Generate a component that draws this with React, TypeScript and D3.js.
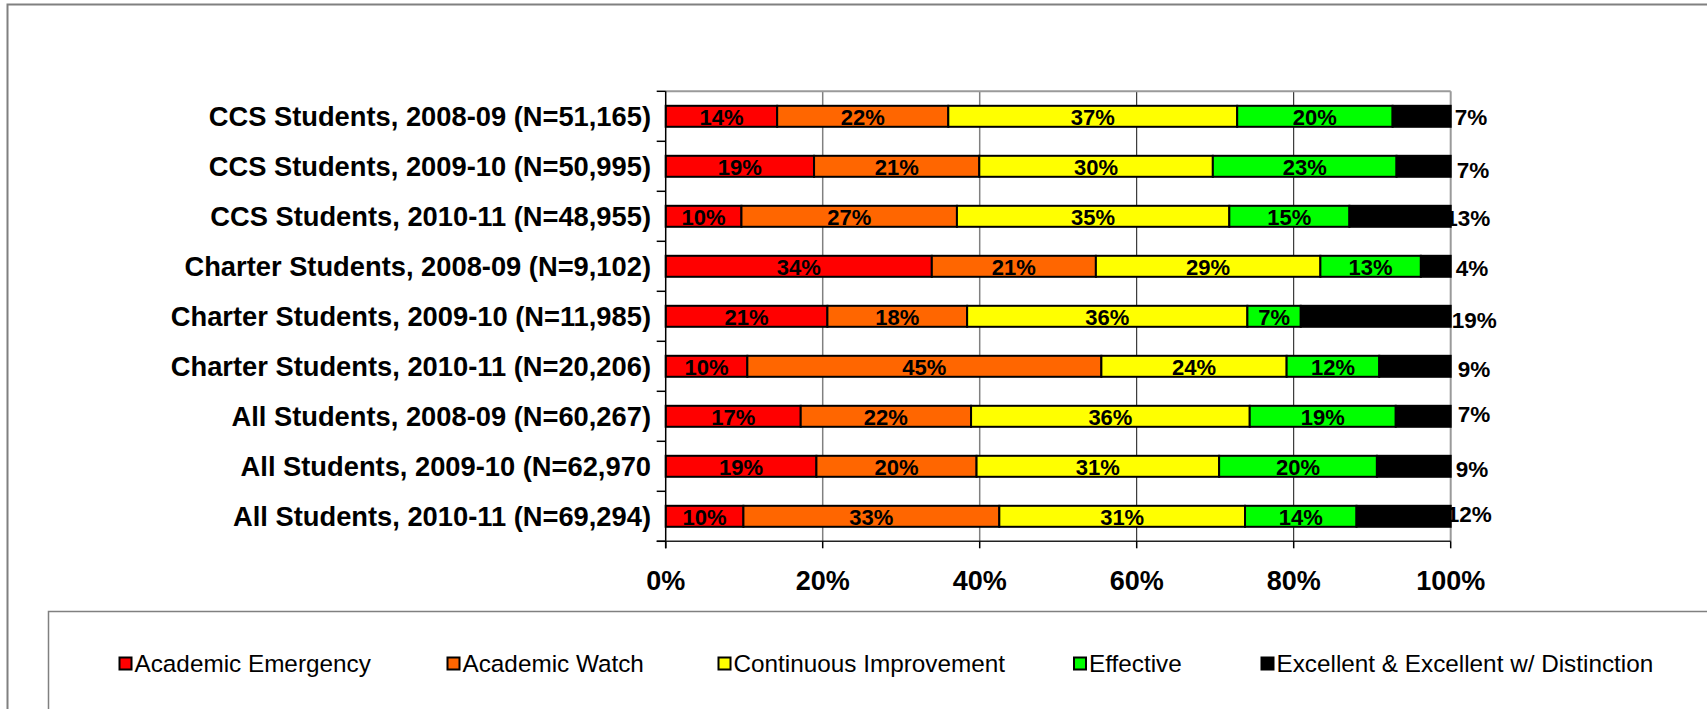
import React from "react";
import * as d3 from "d3";

const categories = [
  "CCS Students, 2008-09 (N=51,165)",
  "CCS Students, 2009-10 (N=50,995)",
  "CCS Students, 2010-11 (N=48,955)",
  "Charter Students, 2008-09 (N=9,102)",
  "Charter Students, 2009-10 (N=11,985)",
  "Charter Students, 2010-11 (N=20,206)",
  "All Students, 2008-09 (N=60,267)",
  "All Students, 2009-10 (N=62,970",
  "All Students, 2010-11 (N=69,294)",
];
const seriesNames = [
  "Academic Emergency",
  "Academic Watch",
  "Continuous Improvement",
  "Effective",
  "Excellent & Excellent w/ Distinction",
];
const seriesColors = ["#FF0000", "#FF6600", "#FFFF00", "#00FF00", "#000000"];

const emergency = [14.2, 18.9, 9.65, 33.9, 20.6, 10.4, 17.2, 19.2, 9.9];
const watch = [21.8, 21.05, 27.45, 20.9, 17.8, 45.1, 21.7, 20.4, 32.6];
const continuous = [36.8, 29.75, 34.7, 28.6, 35.7, 23.6, 35.5, 30.9, 31.3];
const effective = [19.8, 23.4, 15.3, 12.8, 6.8, 11.8, 18.6, 20.1, 14.2];
const excellent = [7.4, 6.9, 12.9, 3.8, 19.1, 9.1, 7.0, 9.4, 12.0];

const xTicks = [0, 0.2, 0.4, 0.6, 0.8, 1];

// layout-only nudges for the outside (black segment) labels
const outsideDx = [4, 6, -5.5, 5, 1, 7, 7, 5, -4];
const outsideDy = [1, 4, 1.5, 1.5, 4, 2.5, -2.5, 2.5, -2];
const legendX = [118.5, 446.5, 717.5, 1073, 1260.5];

const FONT = "'Liberation Sans', Arial, Helvetica, sans-serif";

export default function App() {
  const W = 1707;
  const H = 709;
  const left = 665.7;
  const right = 1450.7;
  const top = 91.3;
  const bottom = 541.3;

  const seriesValues = [emergency, watch, continuous, effective, excellent];
  const rows = categories.map((c, i) => {
    const o: any = { cat: c };
    seriesNames.forEach((s, k) => (o[s] = seriesValues[k][i]));
    return o;
  });
  const stack = d3.stack<any>().keys(seriesNames).offset(d3.stackOffsetExpand);
  const stacked = stack(rows);

  const x = d3.scaleLinear().domain([0, 1]).range([left, right]);
  const y = d3
    .scaleBand<string>()
    .domain(categories)
    .range([top, bottom])
    .paddingInner(0.58)
    .paddingOuter(0.29);
  const step = y.step();
  const bw = y.bandwidth();
  const pct = d3.format(".0%");

  return (
    <svg
      width={W}
      height={H}
      style={{ position: "fixed", left: 0, top: 0, background: "#fff" }}
      fontFamily={FONT}
    >
      <rect x={0} y={0} width={W} height={H} fill="#fff" />
      {/* outer chart frame */}
      <rect x={7.5} y={4.5} width={1800} height={900} fill="none" stroke="#808080" strokeWidth={2} />

      {/* gridlines */}
      {xTicks.slice(1, -1).map((t, i) => (
        <line
          key={"g" + i}
          x1={x(t)}
          x2={x(t)}
          y1={top}
          y2={bottom}
          stroke={t > 0.5 ? "#111" : "#808080"}
          strokeWidth={t > 0.5 ? 1 : 1.5}
        />
      ))}
      {/* plot frame top/right */}
      <line x1={left} x2={right} y1={top} y2={top} stroke="#9a9a9a" strokeWidth={2} />
      <line x1={right} x2={right} y1={top} y2={bottom} stroke="#9a9a9a" strokeWidth={2} />

      {/* bars */}
      {stacked.map((layer, k) =>
        layer.map((d, i) => {
          const x0 = x(d[0]);
          const x1 = x(d[1]);
          return (
            <rect
              key={`b${k}-${i}`}
              x={x0}
              y={y(categories[i])!}
              width={x1 - x0}
              height={bw}
              fill={seriesColors[k]}
              stroke="#000"
              strokeWidth={2}
            />
          );
        })
      )}

      {/* axes */}
      <line x1={left} x2={left} y1={top} y2={bottom + 7} stroke="#000" strokeWidth={1.5} />
      <line x1={left - 9} x2={right} y1={bottom} y2={bottom} stroke="#222" strokeWidth={1.5} />
      {d3.range(categories.length + 1).map((i) => (
        <line
          key={"yt" + i}
          x1={left - 9}
          x2={left}
          y1={top + i * step}
          y2={top + i * step}
          stroke="#000"
          strokeWidth={1.5}
        />
      ))}
      {xTicks.map((t, i) => (
        <line key={"xt" + i} x1={x(t)} x2={x(t)} y1={bottom} y2={bottom + 7} stroke="#000" strokeWidth={1.5} />
      ))}

      {/* inside labels */}
      {stacked.slice(0, 4).map((layer, k) =>
        layer.map((d, i) => {
          const cx = (x(d[0]) + x(d[1])) / 2;
          const cy = y(categories[i])! + bw / 2;
          return (
            <text
              key={`l${k}-${i}`}
              x={cx}
              y={cy + 8.8}
              textAnchor="middle"
              fontWeight="bold"
              fontSize={22}
              fill="#000"
            >
              {Math.round(seriesValues[k][i]) + "%"}
            </text>
          );
        })
      )}
      {/* outside labels for top segment */}
      {stacked[4].map((d, i) => {
        const cy = y(categories[i])! + bw / 2;
        return (
          <text
            key={"o" + i}
            x={x(1) + outsideDx[i]}
            y={cy + 8 + outsideDy[i]}
            textAnchor="start"
            fontWeight="bold"
            fontSize={22.5}
            fill="#000"
          >
            {Math.round(excellent[i]) + "%"}
          </text>
        );
      })}

      {/* category labels */}
      {categories.map((c, i) => (
        <text
          key={"c" + i}
          x={651}
          y={y(c)! + bw / 2 + 9.8}
          textAnchor="end"
          fontWeight="bold"
          fontSize={27.3}
          fill="#000"
        >
          {c}
        </text>
      ))}

      {/* x tick labels */}
      {xTicks.map((t, i) => (
        <text key={"xl" + i} x={x(t)} y={590} textAnchor="middle" fontWeight="bold" fontSize={27} fill="#000">
          {pct(t)}
        </text>
      ))}

      {/* legend */}
      <rect x={48.5} y={611.5} width={1800} height={300} fill="none" stroke="#808080" strokeWidth={1.5} />
      {seriesNames.map((s, k) => (
        <g key={"lg" + k} transform={`translate(${legendX[k]},656.5)`}>
          <rect x={1} y={1} width={12} height={12} fill={seriesColors[k]} stroke="#000" strokeWidth={2} />
          <text x={16} y={15.5} fontSize={24.3} fill="#000">
            {s}
          </text>
        </g>
      ))}
    </svg>
  );
}
